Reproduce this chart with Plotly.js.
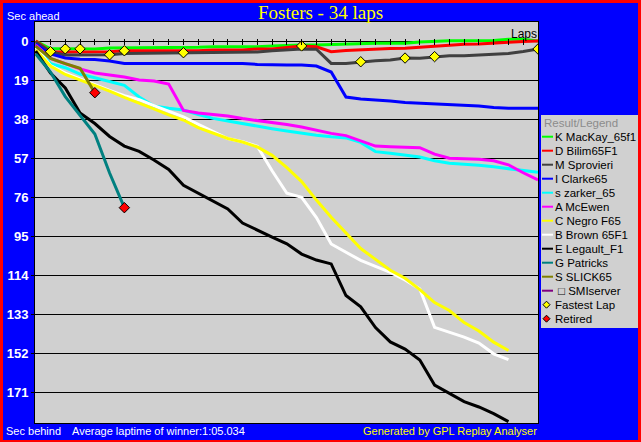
<!DOCTYPE html>
<html><head><meta charset="utf-8">
<script src="https://cdn.plot.ly/plotly-3.0.1.min.js"></script>
<style>
html,body{margin:0;padding:0;background:#0000ff;overflow:hidden;}
#chart{width:641px;height:442px;}
#frame{position:absolute;left:0;top:0;width:641px;height:442px;box-sizing:border-box;border:3px solid #ff0000;border-bottom-width:2px;pointer-events:none;}
</style>
</head><body><div id="chart"></div><div id="frame"></div>
<script>
// ---- data (seconds behind the winner's average pace; negative = ahead) ----
const laps = [0,1,2,3,4,5,6,7,8,9,10,11,12,13,14,15,16,17,18,19,20,21,22,23,24,25,26,27,28,29,30,31,32,33,34];
const lapTicks = [1,2,3,4,5,6,7,8,9,10,11,12,13,14,15,16,17,18,19,20,21,22,23,24,25,26,27,28,29,30,31,32,33];
const yTicks = [0,19,38,57,76,95,114,133,152,171];
const yTickLabels = ['0','19','38','57','76','95','114','133','152','171'];

const driverNames = ['K MacKay_65f1','D Bilim65F1','M Sprovieri','I Clarke65','s zarker_65','A McEwen','C Negro F65','B Brown 65F1','E Legault_F1','G Patricks','S SLICK65','\u25A1 SMIserver'];
const driverColors = ['#00ff00','#ff0000','#404040','#0000ff','#00ffff','#ff00ff','#ffff00','#ffffff','#000000','#008080','#808000','#800080'];

const gapMacKay    = [0,3.8,3.8,3.8,3.9,3.4,3.4,3.4,3.1,3.1,3.1,3.1,2.8,2.8,2.8,2.8,2.4,2.1,1.95,1.95,1.7,1.6,1.35,1.1,1.1,1.1,0.5,0,-0.15,-0.15,-0.15,-0.25,-0.8,-0.8,0];
const gapBilim     = [0,5.2,5.3,5.3,5.3,5.2,4.75,4.8,4.9,4.9,4.9,4.8,4.4,4.4,4.4,3.9,3.9,3.2,2.4,2.8,5.2,4.6,4.2,3.9,3.65,3.55,3.1,2.45,1.85,1.6,1.45,1.2,0.65,0.25,0];
const gapSprovieri = [0.5,5.4,6.8,6.8,6.8,6.7,6.1,6.0,6.0,6.0,5.7,5.5,5.5,5.5,5.5,5.3,4.7,4.3,3.9,4.0,10.9,10.9,10.1,9.65,9.25,8.3,8.4,7.6,7.15,7.15,6.8,6.3,6.1,5.1,3.9];
const gapClarke    = [1.5,6.3,8.3,8.9,9.0,9.7,10.9,10.9,10.9,10.9,10.9,10.9,10.9,10.9,10.9,11.4,11.7,11.7,11.7,12.2,15.1,27.3,28.3,28.7,29.2,30.0,30.35,30.7,31.2,31.2,31.7,32.4,32.8,32.8,32.8];
const gapZarker    = [2.9,11.0,13.0,16.1,17.9,19.8,21.6,27.3,31.7,32.8,33.6,35.8,37.7,39.0,40.3,41.5,42.7,43.8,45.0,45.9,46.7,47.2,49.4,53.9,54.7,55.6,56.5,58.3,59.6,60.1,60.5,61.3,62.1,63.0,64.0];
const gapMcEwen    = [1.95,8.5,11.0,13.6,15.6,16.6,17.5,19.0,19.5,21.0,33.8,35.1,35.8,36.5,37.8,38.7,39.6,40.7,41.9,43.5,45.0,46.1,48.5,51.2,51.5,51.7,52.0,55.1,57.1,57.4,57.6,58.3,60.3,64.2,67.7];
const gapNegro     = [4.4,12.2,16.3,19.0,21.4,24.4,27.5,30.2,33.1,36.0,38.5,42.2,44.8,47.5,49.2,51.6,55.7,61.7,68.5,77.5,85.9,93.3,101.1,106.4,111.7,115.6,121.1,127.4,131.3,137.2,141.3,146.7,150.8];
const gapBrown     = [2.9,12.0,15.6,18.5,21.3,24.1,26.6,28.6,31.5,34.4,37.0,40.6,44.0,47.5,49.1,51.3,63.2,74.2,76.2,86.0,98.9,102.8,106.9,109.8,112.7,116.4,120.8,139.5,141.8,144.3,147.2,152.4,155.2];
const gapLegault   = [4.9,15.6,22.9,35.1,40.2,46.5,51.2,53.8,58.0,62.6,70.3,74.2,77.7,81.8,88.7,92.3,95.5,98.8,103.8,106.7,108.6,124.0,129.5,139.6,146.6,150.1,155.4,167.6,171.7,175.7,178.3,181.5,185.4];
const gapPatricks  = [6.3,15.1,27.1,36.5,45.3,64.3,81.2];
const gapSlick     = [2.5,8.5,11.0,13.3,25.2];
const gapSMIserver = [];

const fastestLapLaps = [1,2,3,5,6,10,18,22,25,27,34];
const fastestLapDriver = [1,0,0,2,1,2,1,2,2,2,2];   // index into driverNames
const retiredDriver = [9,10];                        // G Patricks, S SLICK65

const avgLapText = 'Average laptime of winner:1:05.034';

// ---- build ----
const gaps = [gapMacKay,gapBilim,gapSprovieri,gapClarke,gapZarker,gapMcEwen,gapNegro,gapBrown,gapLegault,gapPatricks,gapSlick,gapSMIserver];
const drawOrder = [0,1,2,3,4,5,7,6,8,9,10];

const L=35,R=538,T=22,B=423;
const px = p => (p-L)/(R-L);
const py = p => (B-p)/(B-T);
const FONT = 'Liberation Sans, Arial, sans-serif';

const traces = [];
drawOrder.forEach(i => {
  traces.push({
    type:'scatter', mode:'lines', name:driverNames[i],
    x: laps.slice(0, gaps[i].length), y: gaps[i],
    line:{color:driverColors[i], width:3}, showlegend:false, hoverinfo:'skip'
  });
});
traces.push({
  type:'scatter', mode:'markers', name:'Fastest Lap', xaxis:'x2',
  x: fastestLapLaps,
  y: fastestLapLaps.map((lp,k) => gaps[fastestLapDriver[k]][lp]),
  marker:{symbol:'diamond', size:8, color:'#ffff00', line:{color:'#000000', width:1}},
  showlegend:false, hoverinfo:'skip'
});
traces.push({
  type:'scatter', mode:'markers', name:'Retired', xaxis:'x2',
  x: retiredDriver.map(i => gaps[i].length-1),
  y: retiredDriver.map(i => gaps[i][gaps[i].length-1]),
  marker:{symbol:'diamond', size:8, color:'#ff0000', line:{color:'#000000', width:1}},
  showlegend:false, hoverinfo:'skip'
});

const annotations = [
  {text:'Sec ahead', x:px(5), y:py(16), xanchor:'left', yanchor:'middle', font:{color:'#ffffff', size:11}},
  {text:'Sec behind', x:px(4), y:py(431), xanchor:'left', yanchor:'middle', font:{color:'#ffffff', size:11}},
  {text:avgLapText, x:px(70), y:py(431), xanchor:'left', yanchor:'middle', font:{color:'#ffffff', size:11}},
  {text:'Generated by GPL Replay Analyser', x:px(539), y:py(431), xanchor:'right', yanchor:'middle', font:{color:'#ffff00', size:11}},
  {text:'Laps', x:px(539), y:py(34), xanchor:'right', yanchor:'middle', font:{color:'#000000', size:12}},
  {text:'Result/Legend', x:px(542), y:py(122.5), xanchor:'left', yanchor:'middle', font:{color:'#8c8c8c', size:11.5}}
];
const shapes = [
  {type:'rect', xref:'paper', yref:'paper', x0:px(541), x1:px(638), y0:py(328), y1:py(115), fillcolor:'#d0d0d0', line:{width:0}, layer:'below'}
];
const legendLabels = driverNames.concat(['Fastest Lap','Retired']);
legendLabels.forEach((lab,k) => {
  const yc = 136.7 + 14*k;
  annotations.push({text:lab, x:px(k===11?556:553), y:py(yc), xanchor:'left', yanchor:'middle', font:{color:'#000000', size:11.5}});
  if (k < driverNames.length) {
    shapes.push({type:'line', xref:'paper', yref:'paper', x0:px(542), x1:px(553), y0:py(yc), y1:py(yc), line:{color:driverColors[k], width:2}});
  } else {
    const fc = k===12 ? '#ffff00' : '#ff0000';
    const cx=546.5, r=3.5;
    const path = 'M'+px(cx-r)+','+py(yc)+' L'+px(cx)+','+py(yc-r)+' L'+px(cx+r)+','+py(yc)+' L'+px(cx)+','+py(yc+r)+' Z';
    shapes.push({type:'path', xref:'paper', yref:'paper', path:path, fillcolor:fc, line:{color:'#000000', width:1}});
  }
});
annotations.forEach(a => { a.xref='paper'; a.yref='paper'; a.showarrow=false; });

const layout = {
  width:641, height:442,
  margin:{l:L, r:641-R, t:T, b:442-B, pad:0},
  paper_bgcolor:'#0000ff', plot_bgcolor:'#d0d0d0',
  font:{family:FONT, size:11, color:'#ffffff'},
  showlegend:false,
  title:{text:'Fosters - 34 laps', font:{family:'Liberation Serif, Times New Roman, serif', size:19, color:'#ffff00'},
         x:0.5, xref:'container', xanchor:'center', y:1-12/442, yref:'container', yanchor:'middle'},
  xaxis:{range:[-0.05,34], showgrid:false, zeroline:false, showline:true, mirror:true, linecolor:'#000000', linewidth:1,
         ticks:'', showticklabels:false, automargin:false, fixedrange:true},
  xaxis2:{overlaying:'x', matches:'x', anchor:'free', position:py(38), side:'bottom', ticks:'outside', ticklen:6,
          tickcolor:'#000000', tickwidth:1, tickmode:'array', tickvals:lapTicks, showticklabels:false,
          showgrid:false, zeroline:false, showline:false, automargin:false},
  yaxis:{range:[186.1,-9.26], tickmode:'array', tickvals:yTicks, ticktext:yTickLabels,
         showgrid:true, gridcolor:'#000000', gridwidth:1, zeroline:true, zerolinecolor:'#000000', zerolinewidth:1,
         showline:true, mirror:true, linecolor:'#000000', linewidth:1,
         ticks:'outside', ticklen:3, tickcolor:'#000000', tickwidth:1,
         tickfont:{family:FONT, size:13, color:'#ffffff', weight:'bold'}, automargin:false, fixedrange:true},
  annotations:annotations, shapes:shapes
};
Plotly.newPlot('chart', traces, layout, {staticPlot:true, displayModeBar:false});
</script>
</body></html>
